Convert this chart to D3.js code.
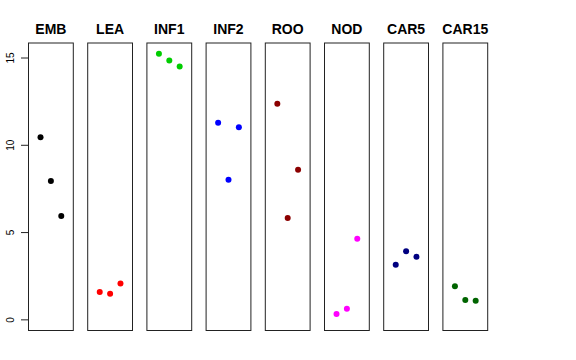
<!DOCTYPE html>
<html>
<head>
<meta charset="utf-8">
<script src="https://cdn.jsdelivr.net/npm/d3@7"></script>
<style>
  body { margin: 0; background: #fff; }
  svg { display: block; font-family: "Liberation Sans", Arial, sans-serif; }
</style>
</head>
<body>
<svg id="chart" width="576" height="360"></svg>
<script>
// one panel per tissue, three replicate values each
const tissues = ["EMB", "LEA", "INF1", "INF2", "ROO", "NOD", "CAR5", "CAR15"];
const colors = ["#000000", "#FF0000", "#00CD00", "#0000FF", "#8B0000", "#FF00FF", "#000080", "#006400"];
const valEMB = [10.46, 7.96, 5.95];
const valLEA = [1.59, 1.49, 2.08];
const valINF1 = [15.24, 14.86, 14.52];
const valINF2 = [11.29, 8.03, 11.03];
const valROO = [12.38, 5.84, 8.60];
const valNOD = [0.34, 0.63, 4.65];
const valCAR5 = [3.15, 3.93, 3.61];
const valCAR15 = [1.93, 1.14, 1.09];
const yTicks = [0, 5, 10, 15];

const series = [valEMB, valLEA, valINF1, valINF2, valROO, valNOD, valCAR5, valCAR15];

const svg = d3.select("#chart");
const plotTop = 43, plotBottom = 330.5;
const panelW = 44.8, firstLeft = 28.5, step = 59.2;

// R-style 4% padding around 0..max
const ymax = 15.25, pad = ymax * 0.04;
const y = d3.scaleLinear().domain([-pad, ymax + pad]).range([plotBottom, plotTop]);
const x = d3.scaleLinear().domain([-0.16, 4.16]).range([0, panelW]);

tissues.forEach((name, i) => {
  const left = firstLeft + i * step;
  const g = svg.append("g").attr("transform", `translate(${left},0)`);

  g.append("rect")
    .attr("x", 0).attr("y", plotTop)
    .attr("width", panelW).attr("height", plotBottom - plotTop)
    .attr("fill", "none").attr("stroke", "#222").attr("stroke-width", 1);

  g.append("text")
    .attr("x", panelW / 2).attr("y", 34)
    .attr("text-anchor", "middle")
    .style("font-weight", "bold").style("font-size", "14px")
    .text(name);

  g.selectAll("circle")
    .data(series[i])
    .join("circle")
    .attr("cx", (d, j) => x(j + 1))
    .attr("cy", d => y(d))
    .attr("r", 3)
    .attr("fill", colors[i]);
});

// left axis
const ax = svg.append("g");
ax.selectAll("line")
  .data(yTicks)
  .join("line")
  .attr("x1", 21).attr("x2", firstLeft)
  .attr("y1", d => y(d)).attr("y2", d => y(d))
  .attr("stroke", "#222");
ax.selectAll("text")
  .data(yTicks)
  .join("text")
  .attr("transform", d => `translate(14,${y(d)}) rotate(-90)`)
  .attr("text-anchor", "middle")
  .style("font-size", "10px")
  .text(d => d);
</script>
</body>
</html>
